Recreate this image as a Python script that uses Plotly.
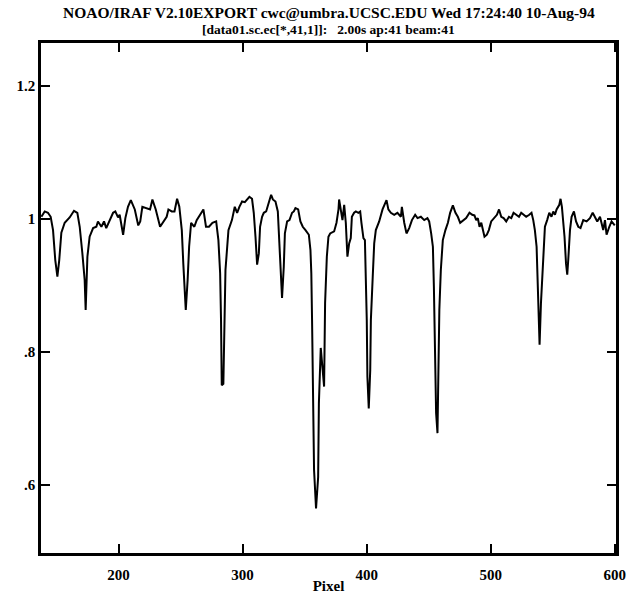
import plotly.graph_objects as go

# Spectrum (pixel, normalized flux)
pixel = [
    137.8, 140.5, 143.1, 145.3, 147.2, 149.0, 150.7, 152.2, 153.9, 156.6,
    160.6, 164.1, 166.8, 168.7, 170.8, 172.7, 173.5, 174.9, 176.7, 179.5,
    182.1, 183.4, 186.2, 188.3, 190.1, 192.9, 195.6, 197.4, 199.6, 200.9,
    203.7, 205.5, 207.6, 209.9, 213.1, 215.9, 217.5, 219.2, 222.7, 225.4,
    227.3, 230.0, 233.5, 236.1, 238.8, 240.2, 242.9, 245.1, 247.2, 249.0,
    251.0, 252.2, 254.2, 255.7, 256.9, 258.5, 261.1, 263.0, 265.8, 268.4,
    270.5, 272.9, 275.7, 278.7, 280.5, 281.9, 282.6, 283.2, 284.5, 285.3,
    286.2, 288.6, 291.4, 293.7, 295.6, 297.4, 299.6, 301.8, 303.6, 305.5,
    307.6, 309.0, 310.4, 311.7, 313.1, 314.1, 315.7, 317.1, 319.0, 320.6,
    323.0, 324.4, 326.5, 328.4, 329.7, 331.1, 331.8, 333.2, 334.1, 335.9,
    337.8, 339.9, 341.3, 342.6, 344.8, 346.6, 348.5, 350.7, 353.4, 354.7,
    355.4, 356.0, 356.5, 357.6, 359.2, 360.9, 361.5, 362.5, 363.0, 365.7,
    366.5, 367.9, 369.2, 370.6, 373.8, 375.7, 377.3, 377.8, 379.2, 380.5,
    381.9, 383.2, 384.5, 385.9, 387.2, 388.1, 389.9, 391.3, 393.3, 394.8,
    395.8, 397.4, 398.6, 399.4, 400.1, 400.6, 401.7, 402.9, 403.4, 404.9,
    406.1, 407.4, 410.1, 412.8, 414.1, 416.0, 417.5, 419.5, 422.2, 424.8,
    427.6, 428.4, 430.3, 432.1, 434.3, 436.5, 439.1, 441.0, 443.7, 446.4,
    449.0, 450.4, 452.0, 453.4, 454.2, 455.2, 456.0, 457.1, 457.9, 458.6,
    459.8, 461.4, 463.5, 465.5, 467.3, 469.5, 471.6, 473.5, 475.4, 477.0,
    480.2, 482.9, 485.1, 486.9, 488.3, 489.6, 491.0, 492.4, 493.7, 495.0,
    496.9, 498.5, 500.4, 503.1, 505.0, 506.7, 508.5, 510.4, 512.5, 514.7,
    516.6, 518.4, 520.6, 522.8, 524.6, 526.5, 528.6, 531.1, 532.9, 534.3,
    535.6, 537.0, 537.8, 538.5, 539.4, 540.5, 542.2, 543.7, 545.5, 547.2,
    549.0, 550.4, 551.8, 553.1, 555.3, 556.3, 557.4, 558.5, 559.5, 560.7,
    561.7, 562.5, 563.9, 565.2, 567.1, 568.8, 570.6, 572.4, 574.6, 577.3,
    580.0, 582.2, 584.1, 585.9, 588.1, 590.7, 592.1, 593.4, 595.6, 597.4, 600.0,
]
flux = [
    1.003, 1.011, 1.009, 1.003, 0.983, 0.938, 0.913, 0.938, 0.979, 0.994,
    1.002, 1.012, 1.009, 0.988, 0.949, 0.908, 0.863, 0.943, 0.973, 0.986,
    0.988, 0.996, 0.988, 0.996, 0.986, 0.998, 1.009, 1.011, 1.002, 1.006,
    0.976, 1.001, 1.018, 1.028, 1.014, 0.990, 0.996, 1.018, 1.016, 1.014,
    1.029, 1.014, 0.988, 0.996, 1.003, 1.014, 1.011, 1.011, 1.030, 1.018,
    0.983, 0.933, 0.863, 0.908, 0.958, 0.994, 0.988, 0.998, 1.006, 1.014,
    0.988, 0.988, 0.994, 0.996, 0.968, 0.918, 0.850, 0.750, 0.752, 0.833,
    0.923, 0.983, 0.998, 1.018, 1.009, 1.018, 1.026, 1.025, 1.029, 1.033,
    1.030, 1.009, 0.973, 0.931, 0.948, 0.988, 1.003, 1.009, 1.011, 1.021,
    1.036, 1.029, 1.026, 1.011, 0.968, 0.923, 0.881, 0.928, 0.978, 0.996,
    0.998, 1.009, 1.011, 1.016, 1.014, 0.996, 0.988, 0.983, 0.976, 0.953,
    0.918, 0.848, 0.748, 0.623, 0.565, 0.612, 0.723, 0.803, 0.806, 0.748,
    0.873, 0.943, 0.973, 0.978, 0.981, 0.994, 1.014, 1.029, 1.011, 0.998,
    1.021, 0.994, 0.943, 0.963, 0.971, 1.003, 1.009, 1.011, 1.009, 1.011,
    0.994, 0.971, 0.968, 0.913, 0.848, 0.763, 0.715, 0.773, 0.848, 0.913,
    0.963, 0.983, 0.996, 1.014, 1.021, 1.028, 1.014, 1.009, 1.006, 1.009,
    1.003, 1.018, 0.994, 0.978, 0.986, 0.998, 1.006, 1.001, 1.003, 0.998,
    1.001, 0.996, 0.978, 0.958, 0.898, 0.808, 0.708, 0.678, 0.763, 0.863,
    0.923, 0.968, 0.983, 0.994, 1.009, 1.020, 1.009, 1.003, 0.994, 0.996,
    1.001, 1.009, 1.006, 1.005, 0.998, 1.001, 0.988, 0.994, 0.981, 0.973,
    0.976, 0.983, 0.996, 1.001, 1.006, 1.014, 1.003, 1.001, 0.996, 1.003,
    1.001, 1.009, 1.006, 1.003, 1.009, 1.006, 1.003, 1.006, 1.009, 0.998,
    0.983, 0.958, 0.918, 0.868, 0.811, 0.873, 0.945, 0.988, 0.998, 1.009,
    1.003, 1.011, 1.006, 1.014, 1.021, 1.030, 1.018, 0.998, 0.973, 0.933,
    0.916, 0.938, 0.983, 1.003, 1.011, 0.996, 0.988, 0.986, 0.998, 0.996,
    1.001, 1.009, 1.001, 0.996, 1.003, 0.983, 0.998, 0.976, 0.988, 0.996, 0.990,
]

x_ticks = [200, 300, 400, 500, 600]
x_tick_labels = ["200", "300", "400", "500", "600"]
y_ticks = [0.6, 0.8, 1.0, 1.2]
y_tick_labels = [".6", ".8", "1", "1.2"]

title_line1 = "NOAO/IRAF V2.10EXPORT cwc@umbra.UCSC.EDU Wed 17:24:40 10-Aug-94"
title_line2 = "[data01.sc.ec[*,41,1]]:\u00a0\u00a0 2.00s ap:41 beam:41"
x_title = "Pixel"

SERIF = "Liberation Serif, Times New Roman, serif"

fig = go.Figure(
    go.Scatter(
        x=pixel, y=flux, mode="lines",
        line=dict(color="black", width=2),
        hoverinfo="skip",
    )
)

axis_common = dict(
    showline=True, linecolor="black", linewidth=2.5, mirror="ticks",
    ticks="inside", tickcolor="black", tickwidth=2, ticklen=9,
    showgrid=False, zeroline=False, automargin=False,
    tickfont=dict(family=SERIF, size=15, color="black", weight="bold"),
)

fig.update_layout(
    width=628, height=594, autosize=False,
    margin=dict(l=41, r=12, t=43, b=41, pad=0),
    paper_bgcolor="white", plot_bgcolor="white",
    showlegend=False,
    xaxis=dict(
        range=[137.5, 601], tickvals=x_ticks, ticktext=x_tick_labels,
        ticklabelstandoff=6,
        title=dict(text=x_title, standoff=0,
                   font=dict(family=SERIF, size=15, color="black", weight="bold")),
        **axis_common,
    ),
    yaxis=dict(
        range=[0.498, 1.264], tickvals=y_ticks, ticktext=y_tick_labels,
        **axis_common,
    ),
    annotations=[
        dict(text=title_line1, xref="paper", yref="paper", x=0.5, y=1,
             xanchor="center", yanchor="middle", yshift=31, showarrow=False,
             font=dict(family=SERIF, size=15.5, color="black", weight="bold")),
        dict(text=title_line2, xref="paper", yref="paper", x=0.5, y=1,
             xanchor="center", yanchor="middle", yshift=14, showarrow=False,
             font=dict(family=SERIF, size=13.5, color="black", weight="bold")),
    ],
)

fig.write_html("out.html")
